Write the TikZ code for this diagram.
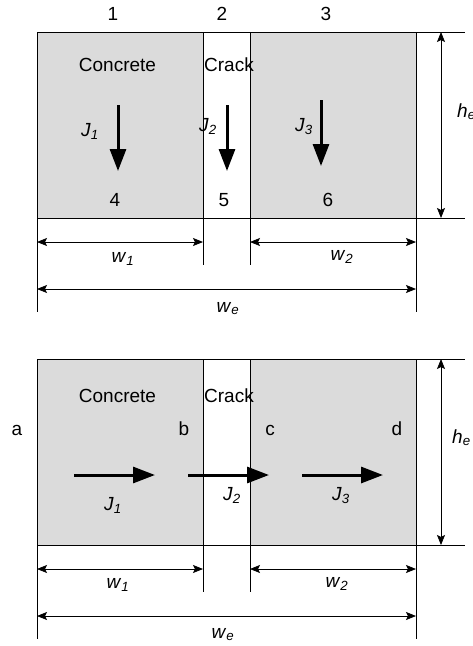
\documentclass[tikz,border=0pt]{standalone}
\usepackage{fontspec}
\setmainfont{Liberation Sans}
\usetikzlibrary{arrows.meta}
\newcommand{\sub}[2]{\textit{#1}\textsubscript{\textit{#2}}}
\begin{document}
\begin{tikzpicture}[x=1pt,y=-1pt,
  every node/.style={font=\fontsize{19}{22}\selectfont, inner sep=0pt},
  lbl/.style={anchor=base},
  conc/.style={fill=black!14, draw=black, line width=0.8pt},
  crack/.style={fill=white, draw=black, line width=0.8pt},
  thin/.style={draw=black, line width=0.8pt},
  dim/.style={draw=black, line width=0.8pt, {Stealth[length=10pt,width=8pt,inset=2pt]}-{Stealth[length=10pt,width=8pt,inset=2pt]}},
  flux/.style={draw=black, line width=3pt, -{Triangle[length=22pt,width=16pt]}}
]
\useasboundingbox (0,0) rectangle (473,646);

% ===== top panel =====
\filldraw[conc] (37,32) rectangle (203,218);
\filldraw[crack] (203,32) rectangle (250,218);
\filldraw[conc] (250,32) rectangle (416,218);
\draw[thin] (416,32) -- (465,32);
\draw[thin] (416,218) -- (465,218);
\draw[thin] (37,218) -- (37,312);
\draw[thin] (416,218) -- (416,312);
\draw[thin] (203,218) -- (203,265);
\draw[thin] (250,218) -- (250,265);
\coordinate (tL) at (37,242); \coordinate (tC1) at (203,242);
\coordinate (tC2) at (250,242); \coordinate (tR) at (416,242);
\coordinate (tL2) at (37,289); \coordinate (tR2) at (416,289);
\coordinate (tHa) at (441,32); \coordinate (tHb) at (441,218);
\draw[dim] (tL) -- (tC1);
\draw[dim] (tC2) -- (tR);
\draw[dim] (tL2) -- (tR2);
\draw[dim] (tHa) -- (tHb);

\node[lbl] (n1) at (113,20.5) {1};
\node[lbl] (n2) at (222,20.5) {2};
\node[lbl] (n3) at (326,20.5) {3};
\node[lbl] (tconc) at (117.5,71) {Concrete};
\node[lbl] (tcrack) at (229,71) {Crack};
\node[lbl] (tj1) at (90,136) {\sub{J}{1}};
\node[lbl] (tj2) at (208,131) {\sub{J}{2}};
\node[lbl] (tj3) at (304,131) {\sub{J}{3}};
\node[lbl] (n4) at (115,206) {4};
\node[lbl] (n5) at (224,206) {5};
\node[lbl] (n6) at (328,206) {6};
\node[lbl] (tw1) at (123,262) {\sub{w}{1}};
\node[lbl] (tw2) at (342,260) {\sub{w}{2}};
\node[lbl] (twe) at (228,312) {\sub{w}{e}};
\node[anchor=base west] (the) at (457,117) {\sub{h}{e}};

\coordinate (tA1) at (118,105); \coordinate (tB1) at (118,171);
\coordinate (tA2) at (227,105); \coordinate (tB2) at (227,171);
\coordinate (tA3) at (321,100); \coordinate (tB3) at (321,166);
\draw[flux] (tA1) -- (tB1);
\draw[flux] (tA2) -- (tB2);
\draw[flux] (tA3) -- (tB3);

% ===== bottom panel =====
\filldraw[conc] (37,359) rectangle (203,545);
\filldraw[crack] (203,359) rectangle (250,545);
\filldraw[conc] (250,359) rectangle (416,545);
\draw[thin] (416,359) -- (465,359);
\draw[thin] (416,545) -- (465,545);
\draw[thin] (37,545) -- (37,639);
\draw[thin] (416,545) -- (416,639);
\draw[thin] (203,545) -- (203,592);
\draw[thin] (250,545) -- (250,592);
\coordinate (bL) at (37,569); \coordinate (bC1) at (203,569);
\coordinate (bC2) at (250,569); \coordinate (bR) at (416,569);
\coordinate (bL2) at (37,616); \coordinate (bR2) at (416,616);
\coordinate (bHa) at (441,359); \coordinate (bHb) at (441,545);
\draw[dim] (bL) -- (bC1);
\draw[dim] (bC2) -- (bR);
\draw[dim] (bL2) -- (bR2);
\draw[dim] (bHa) -- (bHb);

\node[lbl] (bconc) at (117.5,402) {Concrete};
\node[lbl] (bcrack) at (229,402) {Crack};
\node[lbl] (la) at (17,435) {a};
\node[lbl] (lb) at (184,435) {b};
\node[lbl] (lc) at (270,435) {c};
\node[lbl] (ld) at (397,435) {d};
\node[lbl] (bj1) at (113,510) {\sub{J}{1}};
\node[lbl] (bj2) at (232,500) {\sub{J}{2}};
\node[lbl] (bj3) at (341,500) {\sub{J}{3}};
\node[lbl] (bw1) at (118,588) {\sub{w}{1}};
\node[lbl] (bw2) at (337,587) {\sub{w}{2}};
\node[lbl] (bwe) at (223,638) {\sub{w}{e}};
\node[anchor=base west] (bhe) at (452,443) {\sub{h}{e}};

\coordinate (bA1) at (74,475); \coordinate (bB1) at (155,475);
\coordinate (bA2) at (188,475); \coordinate (bB2) at (269,475);
\coordinate (bA3) at (302,475); \coordinate (bB3) at (383,475);
\draw[flux] (bA1) -- (bB1);
\draw[flux] (bA2) -- (bB2);
\draw[flux] (bA3) -- (bB3);
\end{tikzpicture}
\end{document}
